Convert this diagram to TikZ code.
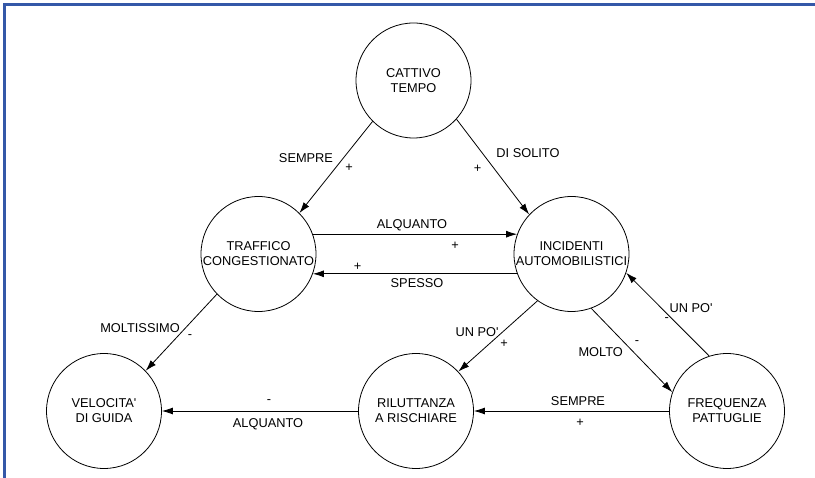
\documentclass[tikz,border=0pt]{standalone}
\usepackage{fontspec}
\setmainfont{Liberation Sans}
\usetikzlibrary{arrows.meta}
\definecolor{frameblue}{RGB}{52,88,168}
\begin{document}
\begin{tikzpicture}[x=1pt,y=-1pt,
  state/.style={circle,draw,line width=0.8pt,minimum size=115pt,inner sep=0pt,align=center,
    font=\fontsize{12.8}{15}\selectfont},
  lbl/.style={inner sep=0pt,font=\fontsize{12.8}{15}\selectfont},
  sgn/.style={inner sep=0pt,font=\fontsize{12.8}{15}\selectfont},
  link/.style={line width=0.8pt,-{Latex[length=11pt,width=7pt]}}]
\useasboundingbox (0,0) rectangle (815,478);
\fill[white] (0,0) rectangle (815,478);
\draw[frameblue,line width=3pt] (4.5,478) -- (4.5,4.5) -- (815,4.5);

\node[state] (cattivo) at (413.5,80.5) {CATTIVO\\TEMPO};
\node[state] (traffico) at (258.5,254) {TRAFFICO\\CONGESTIONATO};
\node[state] (incidenti) at (571.5,254) {INCIDENTI\\AUTOMOBILISTICI};
\node[state] (velocita) at (104,411) {VELOCITA\textquotesingle\\DI GUIDA};
\node[state] (riluttanza) at (416,411) {RILUTTANZA\\A RISCHIARE};
\node[state] (frequenza) at (727,411) {FREQUENZA\\PATTUGLIE};

\draw[link] (cattivo.225) -- (traffico.45);
\draw[link] (cattivo.-42) -- (incidenti.137);
\draw[link] (traffico.20) -- (incidenti.160);
\draw[link] (incidenti.200) -- (traffico.-20);
\draw[link] (traffico.224) -- (velocita.44);
\draw[link] (incidenti.234) -- (riluttanza.43);
\draw[link] (incidenti.290) -- (frequenza.161);
\draw[link] (frequenza.108) -- (incidenti.-19);
\draw[link] (frequenza.west) -- (riluttanza.east);
\draw[link] (riluttanza.west) -- (velocita.east);

\node[lbl] (l1) at (306,158) {SEMPRE};
\node[sgn] (s1) at (349,168) {+};
\node[lbl] (l2) at (528,153) {DI SOLITO};
\node[sgn] (s2) at (477.7,169) {+};
\node[lbl] (l3) at (412,225) {ALQUANTO};
\node[sgn] (s3) at (455,245.7) {+};
\node[lbl] (l4) at (417,283) {SPESSO};
\node[sgn] (s4) at (357.7,266.7) {+};
\node[lbl] (l5) at (140,327.7) {MOLTISSIMO};
\node[sgn] (s5) at (190,336.7) {-};
\node[lbl] (l6) at (477,332) {UN PO\textquotesingle};
\node[sgn] (s6) at (504,344) {+};
\node[lbl] (l7) at (600.7,351.7) {MOLTO};
\node[sgn] (s7) at (637,342.7) {-};
\node[lbl] (l8) at (691,308.3) {UN PO\textquotesingle};
\node[sgn] (s8) at (666.7,320) {-};
\node[lbl] (l9) at (578,401) {SEMPRE};
\node[sgn] (s9) at (580,422.7) {+};
\node[lbl] (l10) at (268,424) {ALQUANTO};
\node[sgn] (s10) at (269,401.7) {-};
\end{tikzpicture}
\end{document}
